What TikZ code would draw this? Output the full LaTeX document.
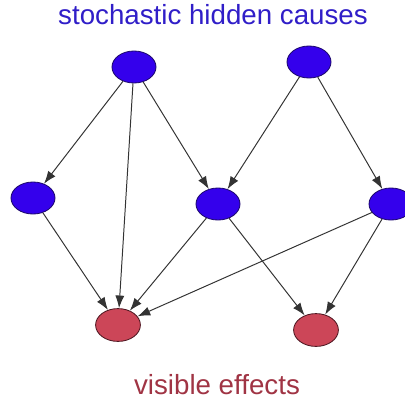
\documentclass[tikz,border=0pt]{standalone}
\usepackage{fontspec}
\setmainfont{Liberation Sans}
\usetikzlibrary{arrows.meta, shapes.geometric}

\definecolor{causeblue}{RGB}{52,0,236}
\definecolor{causeline}{RGB}{30,10,110}
\definecolor{effectred}{RGB}{204,70,88}
\definecolor{effectline}{RGB}{80,25,35}
\definecolor{titleblue}{RGB}{48,30,200}
\definecolor{titlered}{RGB}{160,52,68}

\begin{document}
\begin{tikzpicture}[
    x=0.025cm,
    y=-0.025cm,
    hidden/.style={
        ellipse,
        draw=causeline,
        line width=0.6pt,
        fill=causeblue,
        minimum width=1.1cm,
        minimum height=0.8cm,
        inner sep=0pt
    },
    visible/.style={
        ellipse,
        draw=effectline,
        line width=0.6pt,
        fill=effectred,
        minimum width=1.12cm,
        minimum height=0.82cm,
        inner sep=0pt
    },
    link/.style={
        -{Latex[length=9pt,width=6.5pt]},
        draw=black!80,
        line width=0.7pt
    },
    caption/.style={
        font=\fontsize{19.7}{24}\selectfont
    }
]
\useasboundingbox (0,0) rectangle (405,402);

% Titel
\node[caption, text=titleblue] (top) at (213,15) {stochastic hidden causes};
\node[caption, text=titlered] (bottom) at (217,385) {visible effects};

% Skjulte aarsager
\node[hidden] (h1) at (134,67) {};
\node[hidden] (h2) at (309,62) {};
\node[hidden] (m1) at (33,198) {};
\node[hidden] (m2) at (218,204) {};
\node[hidden] (m3) at (391,204) {};

% Synlige effekter
\node[visible] (v1) at (118,325) {};
\node[visible] (v2) at (316,330) {};

% Pile
\foreach \a/\b in {h1/m1, h1/v1, h1/m2, h2/m2, h2/m3,
                   m1/v1, m2/v1, m2/v2, m3/v1, m3/v2} {
    \draw[link] (\a) -- (\b);
}

\end{tikzpicture}
\end{document}
